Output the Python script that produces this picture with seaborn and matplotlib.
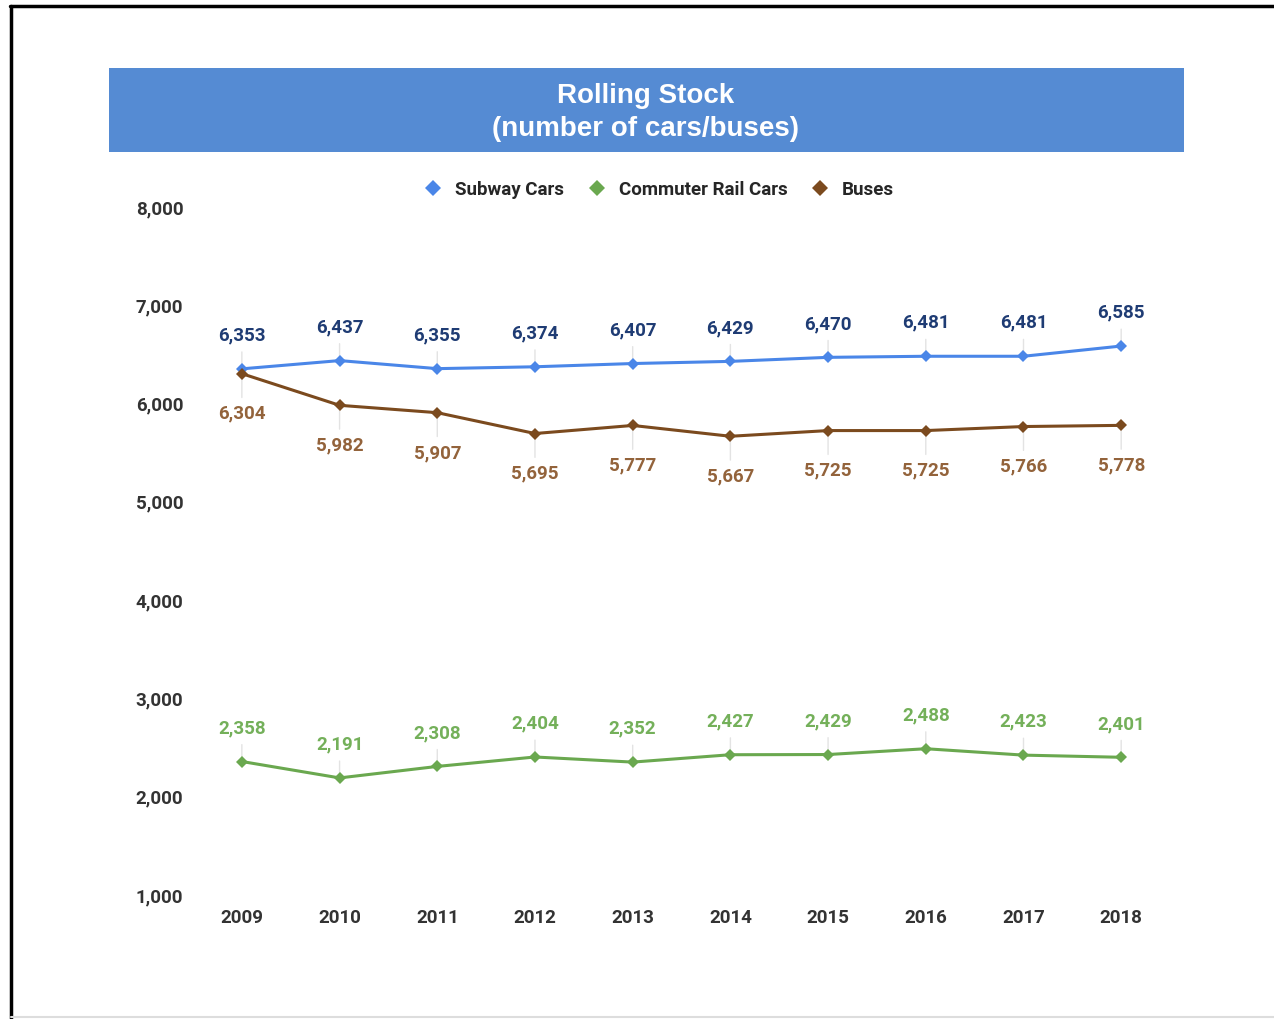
import matplotlib
matplotlib.use("Agg")
import matplotlib.pyplot as plt
from matplotlib.lines import Line2D
from matplotlib.patches import Rectangle
import seaborn as sns
import pandas as pd

# data
years = [2009, 2010, 2011, 2012, 2013, 2014, 2015, 2016, 2017, 2018]
subway = [6353, 6437, 6355, 6374, 6407, 6429, 6470, 6481, 6481, 6585]
commuter = [2358, 2191, 2308, 2404, 2352, 2427, 2429, 2488, 2423, 2401]
buses = [6304, 5982, 5907, 5695, 5777, 5667, 5725, 5725, 5766, 5778]
series_names = ["Subway Cars", "Commuter Rail Cars", "Buses"]
y_ticks = [1000, 2000, 3000, 4000, 5000, 6000, 7000, 8000]

line_colors = {"Subway Cars": "#4a86e8", "Commuter Rail Cars": "#6aa84f", "Buses": "#7b4a1e"}
label_colors = {"Subway Cars": "#1f3c74", "Commuter Rail Cars": "#74b05a", "Buses": "#93633b"}
label_offset = {"Subway Cars": 24, "Commuter Rail Cars": 24, "Buses": -29}

df = pd.DataFrame({
    "year": years * 3,
    "value": subway + commuter + buses,
    "series": [s for s in series_names for _ in years],
})

sns.set_theme(style="white")
plt.rcParams["font.family"] = ["Roboto", "DejaVu Sans"]

fig = plt.figure(figsize=(12.74, 10.19), dpi=100)
ax = fig.add_axes([0.1515, 0.1217, 0.7669, 0.6752])

sns.lineplot(data=df, x="year", y="value", hue="series", palette=line_colors,
             style="series", markers={s: "D" for s in series_names}, dashes=False,
             markersize=6.5, markeredgewidth=0, linewidth=2.2, legend=False, ax=ax)

# data labels with faint leader lines
for name, vals in zip(series_names, [subway, commuter, buses]):
    for x, v in zip(years, vals):
        ax.annotate(f"{v:,}", xy=(x, v), xytext=(0, label_offset[name]),
                    textcoords="offset points", ha="center", va="center",
                    fontsize=13.5, fontweight="bold", color=label_colors[name],
                    arrowprops=dict(arrowstyle="-", color="#e3e3e3", lw=1,
                                    shrinkA=3, shrinkB=0), zorder=1)

ax.set_xlim(2008.5, 2018.5)
ax.set_ylim(1000, 8000)
ax.set_xticks(years)
ax.set_xticklabels([str(y) for y in years])
ax.set_yticks(y_ticks)
ax.set_yticklabels([f"{t:,}" for t in y_ticks])
ax.tick_params(axis="both", length=0, labelsize=13.5, labelcolor="#333333")
ax.tick_params(axis="y", pad=7)
ax.tick_params(axis="x", pad=10)
for lbl in ax.get_xticklabels() + ax.get_yticklabels():
    lbl.set_fontweight("bold")
ax.set_xlabel("")
ax.set_ylabel("")
ax.grid(False)
sns.despine(ax=ax, left=True, bottom=True)

handles = [Line2D([], [], linestyle="none", marker="D", markersize=8,
                  markeredgewidth=0, color=line_colors[s]) for s in series_names]
fig.legend(handles, series_names, loc="center", bbox_to_anchor=(0.5165, 0.8135),
           ncol=3, frameon=False, handlelength=1.2, handletextpad=0.57,
           columnspacing=1.15, prop={"weight": "bold", "size": 13.5})

# title banner
fig.add_artist(Rectangle((0.0856, 0.8508), 0.8438, 0.0825, transform=fig.transFigure,
                         facecolor="#558bd3", edgecolor="none"))
fig.text(0.507, 0.8895, "Rolling Stock\n(number of cars/buses)", ha="center", va="center",
         color="white", fontsize=20, fontweight="bold", family="Liberation Sans",
         linespacing=1.33)

# page frame
fig.add_artist(Line2D([0.0086, 0.0086], [0.0, 0.994], transform=fig.transFigure,
                      color="black", lw=2.5))
fig.add_artist(Line2D([0.0078, 1.0], [0.994, 0.994], transform=fig.transFigure,
                      color="black", lw=2.5))
fig.add_artist(Line2D([0.0086, 1.0], [0.0015, 0.0015], transform=fig.transFigure,
                      color="#dddddd", lw=1.5))

fig.savefig("out.png", dpi=100)
